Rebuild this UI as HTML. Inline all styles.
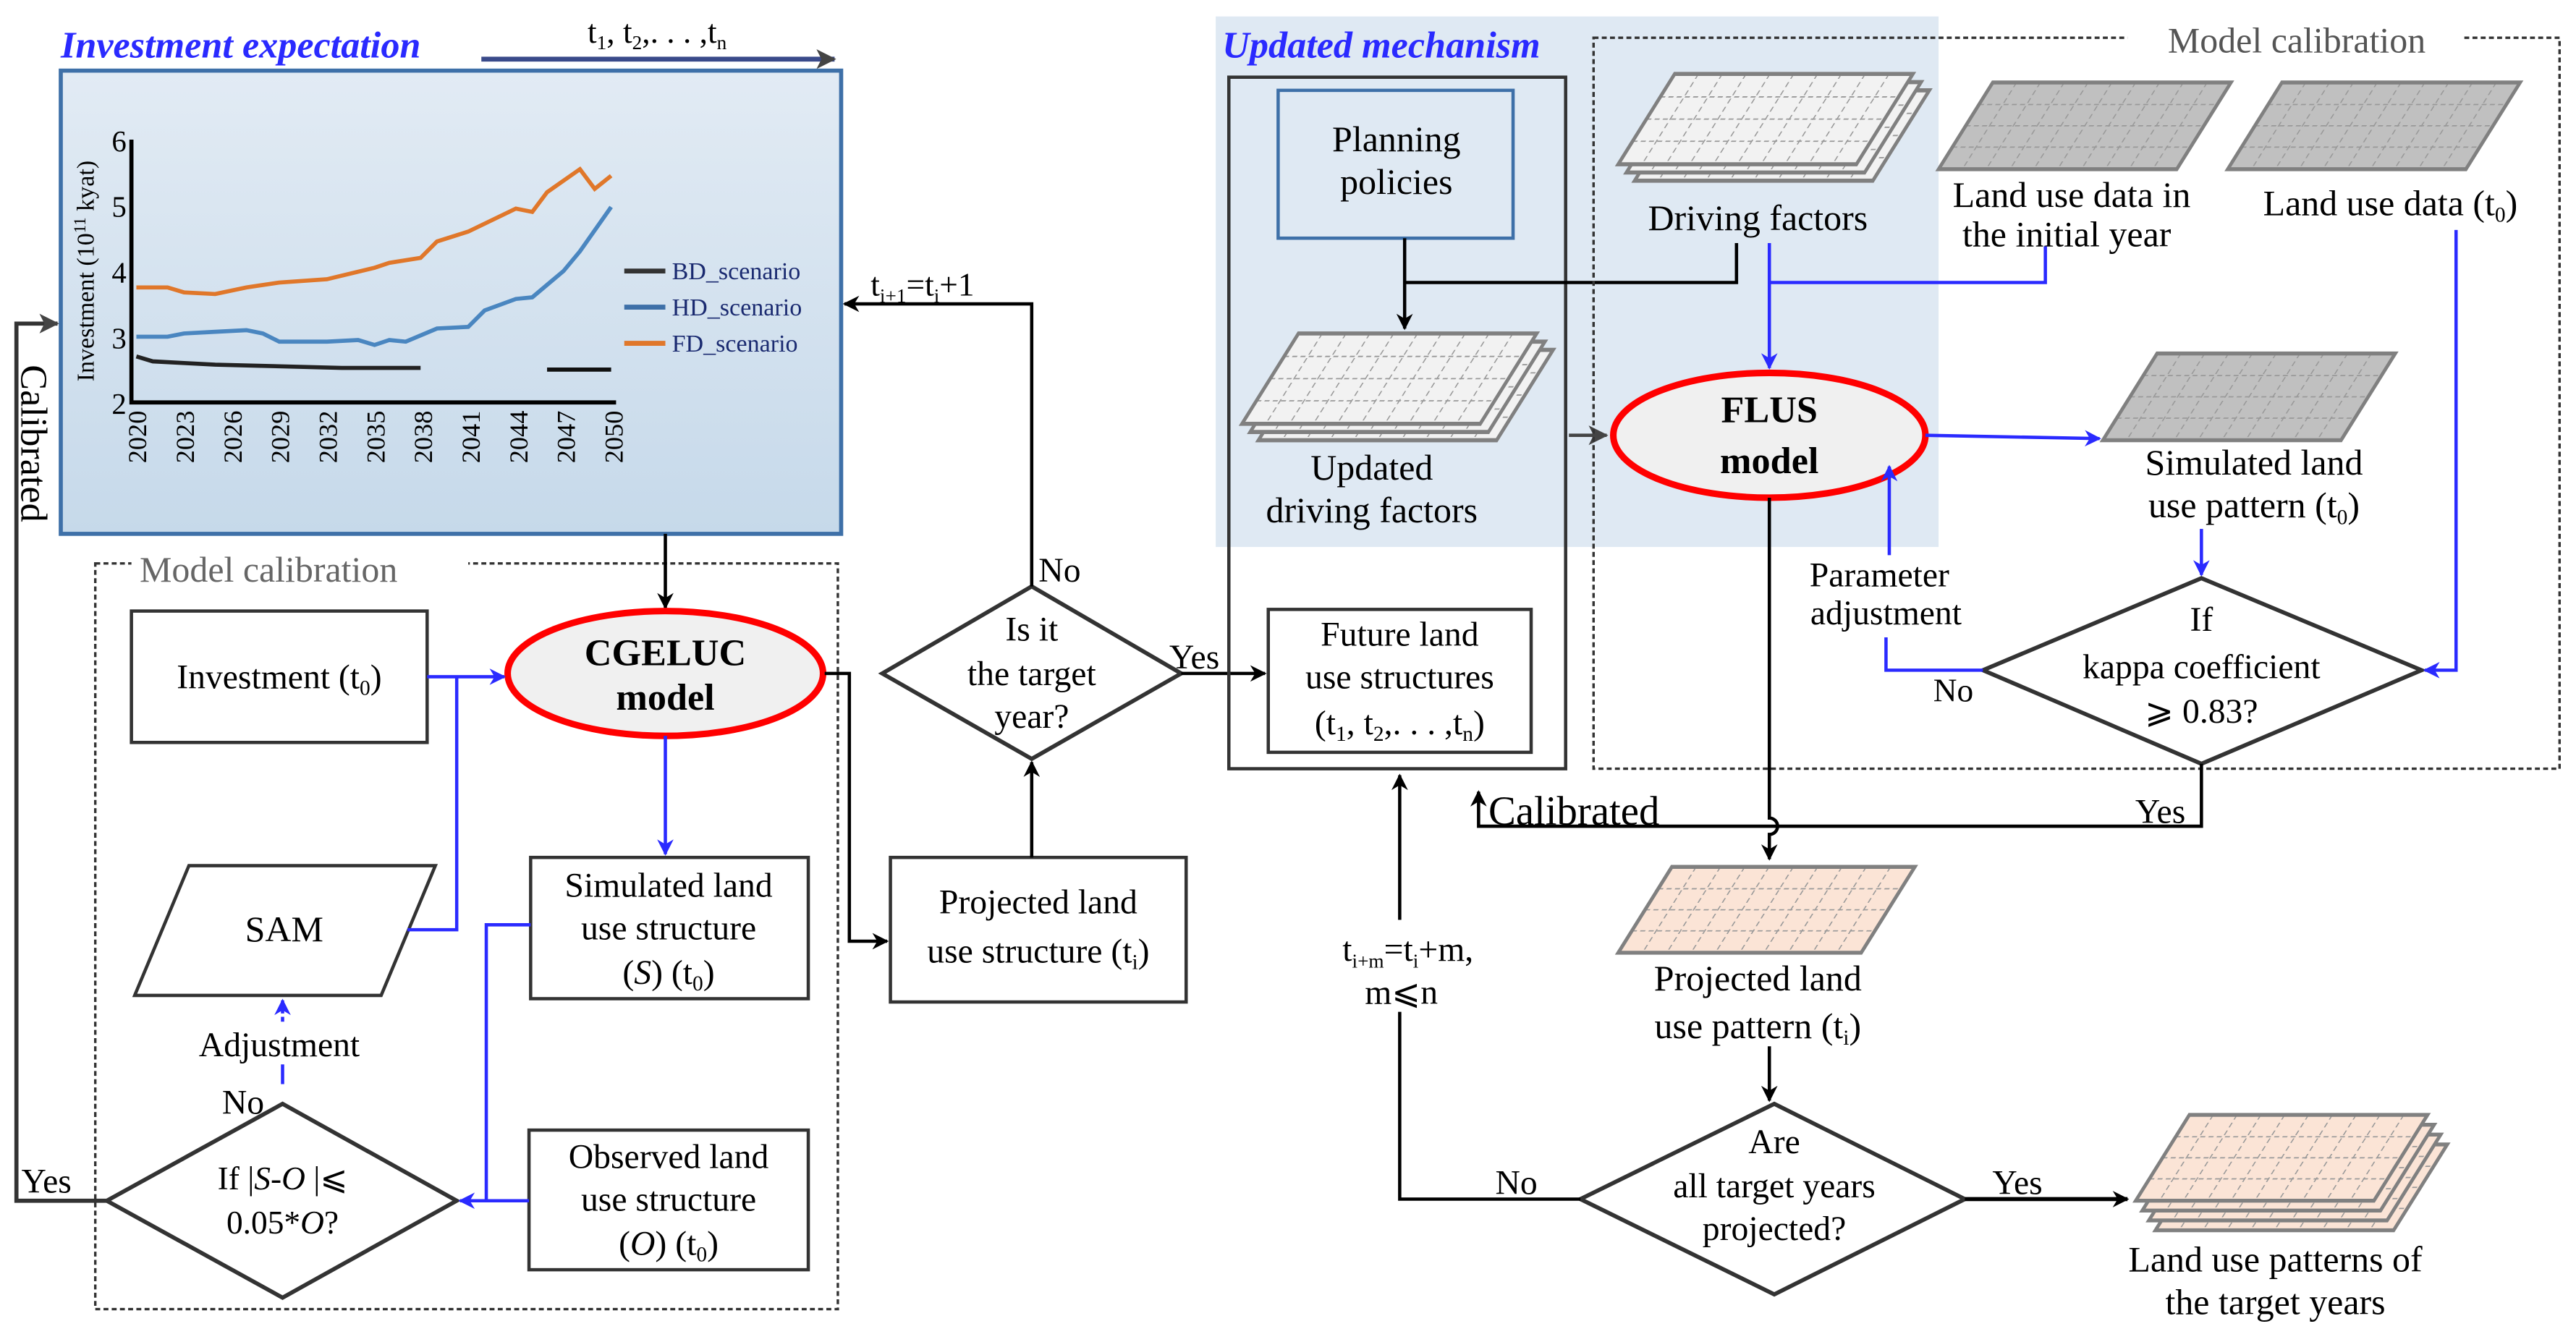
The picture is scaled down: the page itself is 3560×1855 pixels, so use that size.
<!DOCTYPE html>
<html><head><meta charset="utf-8"><style>
html,body{margin:0;padding:0;background:#fff;}
svg{display:block;}
text{font-family:"Liberation Serif","Times New Roman",serif;fill:#000;}
</style></head><body>
<svg width="3560" height="1855" viewBox="0 0 1568 817" preserveAspectRatio="none" xmlns="http://www.w3.org/2000/svg" font-family="Liberation Serif, serif">
<defs>
<linearGradient id="cg" x1="0" y1="0" x2="0" y2="1"><stop offset="0" stop-color="#e2ebf4"/><stop offset="1" stop-color="#c6d9ea"/></linearGradient>
<marker id="ak" markerWidth="10" markerHeight="10" refX="9" refY="5" orient="auto" markerUnits="userSpaceOnUse"><path d="M0,0 L10,5 L0,10 L3,5Z" fill="#000"/></marker>
<marker id="ag" markerWidth="12" markerHeight="12" refX="11" refY="6" orient="auto" markerUnits="userSpaceOnUse"><path d="M0,0 L12,6 L0,12 L3,6Z" fill="#444"/></marker>
<marker id="ab" markerWidth="10" markerHeight="10" refX="9" refY="5" orient="auto" markerUnits="userSpaceOnUse"><path d="M0,0 L10,5 L0,10 L3,5Z" fill="#2a2aff"/></marker>
<g id="grid">
<g stroke="#999" stroke-width="0.8" stroke-dasharray="3,2">
<line x1="14.5" y1="-55" x2="14.5" y2="0"/><line x1="29" y1="-55" x2="29" y2="0"/><line x1="43.5" y1="-55" x2="43.5" y2="0"/><line x1="58" y1="-55" x2="58" y2="0"/><line x1="72.5" y1="-55" x2="72.5" y2="0"/><line x1="87" y1="-55" x2="87" y2="0"/><line x1="101.5" y1="-55" x2="101.5" y2="0"/><line x1="116" y1="-55" x2="116" y2="0"/><line x1="130.5" y1="-55" x2="130.5" y2="0"/>
<line x1="0" y1="-41" x2="145" y2="-41"/><line x1="0" y1="-27.5" x2="145" y2="-27.5"/><line x1="0" y1="-14" x2="145" y2="-14"/>
</g>
<rect x="0" y="-55" width="145" height="55" fill="none" stroke="#808080" stroke-width="2.5"/>
</g>
</defs>

<!-- Investment expectation -->
<text x="37" y="35" font-size="23" font-style="italic" font-weight="bold" style="fill:#2a2aff">Investment expectation</text>
<line x1="293" y1="36" x2="508" y2="36" stroke="#3a4a8a" stroke-width="3" marker-end="url(#ag)"/>
<text x="400" y="26" font-size="20" text-anchor="middle">t<tspan font-size="12" dy="4">1</tspan><tspan dy="-4">, t</tspan><tspan font-size="12" dy="4">2</tspan><tspan dy="-4">,. . . ,t</tspan><tspan font-size="12" dy="4">n</tspan></text>
<rect x="37" y="43" width="475" height="282" fill="url(#cg)" stroke="#3e70a8" stroke-width="2.5"/>
<!-- axes -->
<polyline points="80,85 80,245 375,245" fill="none" stroke="#000" stroke-width="2.5"/>
<g font-size="18" text-anchor="end">
<text x="77" y="92">6</text><text x="77" y="132">5</text><text x="77" y="172">4</text><text x="77" y="212">3</text><text x="77" y="252">2</text>
</g>
<text transform="translate(57,165) rotate(-90)" font-size="15" text-anchor="middle">Investment (10<tspan font-size="10" dy="-5">11</tspan><tspan dy="5"> kyat)</tspan></text>
<g font-size="16" text-anchor="end">
<text transform="translate(89,250) rotate(-90)">2020</text>
<text transform="translate(118,250) rotate(-90)">2023</text>
<text transform="translate(147,250) rotate(-90)">2026</text>
<text transform="translate(176,250) rotate(-90)">2029</text>
<text transform="translate(205,250) rotate(-90)">2032</text>
<text transform="translate(234,250) rotate(-90)">2035</text>
<text transform="translate(263,250) rotate(-90)">2038</text>
<text transform="translate(292,250) rotate(-90)">2041</text>
<text transform="translate(321,250) rotate(-90)">2044</text>
<text transform="translate(350,250) rotate(-90)">2047</text>
<text transform="translate(379,250) rotate(-90)">2050</text>
</g>
<polyline fill="none" stroke="#e0772a" stroke-width="2.5" points="83,175 102,175 112,178 131,179 150,175 170,172 199,170 228,163 237,160 256,157 266,147 285,141 314,127 324,129 333,117 353,103 362,115 372,107"/>
<polyline fill="none" stroke="#4a86c0" stroke-width="2.5" points="83,205 102,205 112,203 131,202 150,201 160,203 170,208 199,208 218,207 228,210 237,207 247,208 266,200 285,199 295,189 314,182 324,181 343,165 353,153 372,126"/>
<polyline fill="none" stroke="#222" stroke-width="2.5" points="83,217 93,220 112,221 131,222 170,223 208,224 256,224"/>
<line x1="333" y1="225" x2="372" y2="225" stroke="#111" stroke-width="2.5"/>
<line x1="380" y1="165" x2="405" y2="165" stroke="#333" stroke-width="3"/>
<line x1="380" y1="187" x2="405" y2="187" stroke="#3e70a8" stroke-width="3"/>
<line x1="380" y1="209" x2="405" y2="209" stroke="#e0772a" stroke-width="3"/>
<g font-size="15"><text x="409" y="170" style="fill:#1a2a70">BD_scenario</text><text x="409" y="192" style="fill:#1a2a70">HD_scenario</text><text x="409" y="214" style="fill:#1a2a70">FD_scenario</text></g>

<!-- left calibrated loop -->
<polyline points="65,731 10,731 10,197 35,197" fill="none" stroke="#333" stroke-width="2.5" marker-end="url(#ag)"/>
<text transform="translate(13,270) rotate(90)" font-size="23" text-anchor="middle">Calibrated</text>
<text x="13" y="726" font-size="21">Yes</text>

<!-- left model calibration -->
<rect x="58" y="343" width="452" height="454" fill="none" stroke="#333" stroke-width="1.5" stroke-dasharray="3,2"/>
<rect x="80" y="333" width="205" height="22" fill="#fff"/>
<text x="85" y="354" font-size="22" style="fill:#666">Model  calibration</text>

<line x1="405" y1="325" x2="405" y2="370" stroke="#000" stroke-width="2" marker-end="url(#ak)"/>
<ellipse cx="405" cy="410" rx="96" ry="38" fill="#f0f0f0" stroke="#f00" stroke-width="4"/>
<text x="405" y="405" font-size="23" font-weight="bold" text-anchor="middle">CGELUC</text>
<text x="405" y="432" font-size="23" font-weight="bold" text-anchor="middle">model</text>

<rect x="80" y="372" width="180" height="80" fill="#fff" stroke="#333" stroke-width="2"/>
<text x="170" y="419" font-size="21" text-anchor="middle">Investment (t<tspan font-size="13" dy="4">0</tspan><tspan dy="-4">)</tspan></text>
<line x1="260" y1="412" x2="307" y2="412" stroke="#2a2aff" stroke-width="2" marker-end="url(#ab)"/>

<polygon points="82,606 115,527 265,527 232,606" fill="#fff" stroke="#333" stroke-width="2"/>
<text x="173" y="573" font-size="22" text-anchor="middle">SAM</text>
<polyline points="248,566 278,566 278,412" fill="none" stroke="#2a2aff" stroke-width="2"/>

<line x1="405" y1="448" x2="405" y2="520" stroke="#2a2aff" stroke-width="2" marker-end="url(#ab)"/>
<rect x="323" y="522" width="169" height="86" fill="#fff" stroke="#333" stroke-width="2"/>
<g font-size="21" text-anchor="middle"><text x="407" y="546">Simulated land</text><text x="407" y="572">use structure</text><text x="407" y="599">(<tspan font-style="italic">S</tspan>) (t<tspan font-size="13" dy="4">0</tspan><tspan dy="-4">)</tspan></text></g>

<rect x="322" y="688" width="170" height="85" fill="#fff" stroke="#333" stroke-width="2"/>
<g font-size="21" text-anchor="middle"><text x="407" y="711">Observed land</text><text x="407" y="737">use structure</text><text x="407" y="764">(<tspan font-style="italic">O</tspan>) (t<tspan font-size="13" dy="4">0</tspan><tspan dy="-4">)</tspan></text></g>

<polygon points="65,731 172,672 278,731 172,790" fill="#fff" stroke="#333" stroke-width="2.5"/>
<g font-size="20" text-anchor="middle"><text x="172" y="724">If |<tspan font-style="italic">S</tspan>-<tspan font-style="italic">O</tspan> |⩽</text><text x="172" y="751">0.05*<tspan font-style="italic">O</tspan>?</text></g>
<line x1="322" y1="731" x2="280" y2="731" stroke="#2a2aff" stroke-width="2" marker-end="url(#ab)"/>
<polyline points="323,563 296,563 296,731" fill="none" stroke="#2a2aff" stroke-width="2"/>
<line x1="172" y1="622" x2="172" y2="609" stroke="#2a2aff" stroke-width="2" stroke-dasharray="3,2" marker-end="url(#ab)"/>
<line x1="172" y1="648" x2="172" y2="660" stroke="#2a2aff" stroke-width="2"/>
<text x="170" y="643" font-size="21" text-anchor="middle">Adjustment</text>
<text x="148" y="678" font-size="21" text-anchor="middle">No</text>

<!-- middle -->
<polyline points="502,410 517,410 517,573 540,573" fill="none" stroke="#000" stroke-width="2" marker-end="url(#ak)"/>
<rect x="542" y="522" width="180" height="88" fill="#fff" stroke="#333" stroke-width="2"/>
<g font-size="21" text-anchor="middle"><text x="632" y="556">Projected land</text><text x="632" y="586">use structure (t<tspan font-size="13" dy="4">i</tspan><tspan dy="-4">)</tspan></text></g>
<line x1="628" y1="522" x2="628" y2="464" stroke="#000" stroke-width="2" marker-end="url(#ak)"/>
<polygon points="537,410 628,357 719,410 628,462" fill="#fff" stroke="#333" stroke-width="2.5"/>
<g font-size="21" text-anchor="middle"><text x="628" y="390">Is it</text><text x="628" y="417">the target</text><text x="628" y="443">year?</text></g>
<polyline points="628,357 628,185 514,185" fill="none" stroke="#000" stroke-width="2" marker-end="url(#ak)"/>
<text x="530" y="180" font-size="20">t<tspan font-size="12" dy="4">i+1</tspan><tspan dy="-4">=t</tspan><tspan font-size="12" dy="4">i</tspan><tspan dy="-4">+1</tspan></text>
<text x="645" y="354" font-size="21" text-anchor="middle">No</text>
<text x="727" y="407" font-size="21" text-anchor="middle">Yes</text>
<line x1="719" y1="410" x2="770" y2="410" stroke="#000" stroke-width="2" marker-end="url(#ak)"/>

<!-- updated mechanism -->
<rect x="740" y="10" width="440" height="323" fill="#dfe9f3"/>
<text x="744" y="35" font-size="23" font-style="italic" font-weight="bold" style="fill:#2a2aff">Updated mechanism</text>
<rect x="748" y="47" width="205" height="421" fill="none" stroke="#333" stroke-width="2"/>
<rect x="778" y="55" width="143" height="90" fill="#dfe9f3" stroke="#3e70a8" stroke-width="2"/>
<g font-size="22" text-anchor="middle"><text x="850" y="92">Planning</text><text x="850" y="118">policies</text></g>

<g>
<polygon transform="translate(995,110) skewX(-32)" points="0,-55 145,-55 145,0 0,0" fill="#f2f2f2"/>
<use href="#grid" transform="translate(995,110) skewX(-32)"/>
<polygon transform="translate(990,105) skewX(-32)" points="0,-55 145,-55 145,0 0,0" fill="#f2f2f2"/>
<use href="#grid" transform="translate(990,105) skewX(-32)"/>
<polygon transform="translate(985,100) skewX(-32)" points="0,-55 145,-55 145,0 0,0" fill="#f2f2f2"/>
<use href="#grid" transform="translate(985,100) skewX(-32)"/>
</g>
<text x="1070" y="140" font-size="22" text-anchor="middle">Driving factors</text>

<g>
<polygon transform="translate(766,268) skewX(-32)" points="0,-55 145,-55 145,0 0,0" fill="#f2f2f2"/>
<use href="#grid" transform="translate(766,268) skewX(-32)"/>
<polygon transform="translate(761,263) skewX(-32)" points="0,-55 145,-55 145,0 0,0" fill="#f2f2f2"/>
<use href="#grid" transform="translate(761,263) skewX(-32)"/>
<polygon transform="translate(756,258) skewX(-32)" points="0,-55 145,-55 145,0 0,0" fill="#f2f2f2"/>
<use href="#grid" transform="translate(756,258) skewX(-32)"/>
</g>
<g font-size="22" text-anchor="middle"><text x="835" y="292">Updated</text><text x="835" y="318">driving factors</text></g>

<line x1="855" y1="145" x2="855" y2="200" stroke="#000" stroke-width="2" marker-end="url(#ak)"/>
<polyline points="1057,148 1057,172 855,172" fill="none" stroke="#000" stroke-width="2"/>
<line x1="955" y1="265" x2="978" y2="265" stroke="#444" stroke-width="2" marker-end="url(#ag)"/>

<rect x="772" y="371" width="160" height="87" fill="#fff" stroke="#333" stroke-width="2"/>
<g font-size="21" text-anchor="middle"><text x="852" y="393">Future land</text><text x="852" y="419">use structures</text><text x="852" y="447">(t<tspan font-size="13" dy="4">1</tspan><tspan dy="-4">, t</tspan><tspan font-size="13" dy="4">2</tspan><tspan dy="-4">,. . . ,t</tspan><tspan font-size="13" dy="4">n</tspan><tspan dy="-4">)</tspan></text></g>

<!-- right model calibration -->
<rect x="970" y="23" width="588" height="445" fill="none" stroke="#333" stroke-width="1.5" stroke-dasharray="3,2"/>
<rect x="1295" y="10" width="205" height="25" fill="#fff"/>
<text x="1398" y="32" font-size="22" text-anchor="middle" style="fill:#555">Model  calibration</text>

<polygon transform="translate(1180,103) skewX(-32)" points="0,-53 145,-53 145,0 0,0" fill="#c0c0c0"/>
<use href="#grid" transform="translate(1180,103) skewX(-32) scale(1,0.96)"/>
<polygon transform="translate(1356,103) skewX(-32)" points="0,-53 145,-53 145,0 0,0" fill="#c0c0c0"/>
<use href="#grid" transform="translate(1356,103) skewX(-32) scale(1,0.96)"/>
<g font-size="22" text-anchor="middle"><text x="1261" y="126">Land use data in</text><text x="1258" y="150">the initial year</text></g>
<text x="1455" y="131" font-size="22" text-anchor="middle">Land use data  (t<tspan font-size="13" dy="4">0</tspan><tspan dy="-4">)</tspan></text>

<polyline points="1245,150 1245,172 1077,172" fill="none" stroke="#2a2aff" stroke-width="2"/>
<line x1="1077" y1="148" x2="1077" y2="224" stroke="#2a2aff" stroke-width="2" marker-end="url(#ab)"/>
<ellipse cx="1077" cy="265" rx="95" ry="38" fill="#f0f0f0" stroke="#f00" stroke-width="4"/>
<text x="1077" y="257" font-size="23" font-weight="bold" text-anchor="middle">FLUS</text>
<text x="1077" y="288" font-size="23" font-weight="bold" text-anchor="middle">model</text>

<line x1="1172" y1="265" x2="1278" y2="267" stroke="#2a2aff" stroke-width="2" marker-end="url(#ab)"/>
<polygon transform="translate(1280,268) skewX(-32)" points="0,-53 145,-53 145,0 0,0" fill="#c0c0c0"/>
<use href="#grid" transform="translate(1280,268) skewX(-32) scale(1,0.96)"/>
<g font-size="22" text-anchor="middle"><text x="1372" y="289">Simulated land</text><text x="1372" y="315">use pattern (t<tspan font-size="13" dy="4">0</tspan><tspan dy="-4">)</tspan></text></g>
<line x1="1340" y1="322" x2="1340" y2="350" stroke="#2a2aff" stroke-width="2" marker-end="url(#ab)"/>
<polygon points="1207,408 1340,352 1474,408 1340,465" fill="#fff" stroke="#333" stroke-width="2.5"/>
<g font-size="21" text-anchor="middle"><text x="1340" y="384">If</text><text x="1340" y="413">kappa coefficient</text><text x="1340" y="440">⩾ 0.83?</text></g>
<polyline points="1495,140 1495,408 1476,408" fill="none" stroke="#2a2aff" stroke-width="2" marker-end="url(#ab)"/>
<text x="1189" y="427" font-size="20" text-anchor="middle">No</text>
<polyline points="1207,408 1148,408 1148,388" fill="none" stroke="#2a2aff" stroke-width="2"/>
<line x1="1150" y1="338" x2="1150" y2="284" stroke="#2a2aff" stroke-width="2" marker-end="url(#ab)"/>
<g font-size="21" text-anchor="middle"><text x="1144" y="357">Parameter</text><text x="1148" y="380">adjustment</text></g>

<path d="M1077,303 L1077,498 A5,5 0 0 1 1077,508 L1077,523" fill="none" stroke="#000" stroke-width="2" marker-end="url(#ak)"/>
<polyline points="1340,465 1340,503 900,503 900,482" fill="none" stroke="#000" stroke-width="2" marker-end="url(#ak)"/>
<text x="1315" y="501" font-size="21" text-anchor="middle">Yes</text>
<text x="906" y="502" font-size="25">Calibrated</text>

<polygon transform="translate(985,580) skewX(-32)" points="0,-52 148,-52 148,0 0,0" fill="#fbe4d6"/>
<use href="#grid" transform="translate(985,580) skewX(-32) scale(1.02,0.95)"/>
<g font-size="22" text-anchor="middle"><text x="1070" y="603">Projected land</text><text x="1070" y="632">use pattern (t<tspan font-size="13" dy="4">i</tspan><tspan dy="-4">)</tspan></text></g>
<line x1="1077" y1="637" x2="1077" y2="670" stroke="#000" stroke-width="2" marker-end="url(#ak)"/>
<polygon points="962,730 1080,672 1196,730 1080,788" fill="#fff" stroke="#333" stroke-width="2.5"/>
<g font-size="21" text-anchor="middle"><text x="1080" y="702">Are</text><text x="1080" y="729">all target years</text><text x="1080" y="755">projected?</text></g>
<polyline points="962,730 852,730 852,472" fill="none" stroke="#000" stroke-width="2" marker-end="url(#ak)"/>
<rect x="800" y="560" width="110" height="56" fill="#fff"/>
<text x="857" y="585" font-size="21" text-anchor="middle">t<tspan font-size="12" dy="4">i+m</tspan><tspan dy="-4">=t</tspan><tspan font-size="12" dy="4">i</tspan><tspan dy="-4">+m,</tspan></text>
<text x="853" y="611" font-size="21" text-anchor="middle">m⩽n</text>
<text x="923" y="727" font-size="21" text-anchor="middle">No</text>
<text x="1228" y="727" font-size="21" text-anchor="middle">Yes</text>
<line x1="1196" y1="730" x2="1295" y2="730" stroke="#000" stroke-width="2.5" marker-end="url(#ak)"/>

<g>
<polygon transform="translate(1312,749) skewX(-32)" points="0,-52 145,-52 145,0 0,0" fill="#fbe4d6"/>
<use href="#grid" transform="translate(1312,749) skewX(-32) scale(1,0.95)"/>
<polygon transform="translate(1308,743) skewX(-32)" points="0,-52 145,-52 145,0 0,0" fill="#fbe4d6"/>
<use href="#grid" transform="translate(1308,743) skewX(-32) scale(1,0.95)"/>
<polygon transform="translate(1304,737) skewX(-32)" points="0,-52 145,-52 145,0 0,0" fill="#fbe4d6"/>
<use href="#grid" transform="translate(1304,737) skewX(-32) scale(1,0.95)"/>
<polygon transform="translate(1300,731) skewX(-32)" points="0,-52 145,-52 145,0 0,0" fill="#fbe4d6"/>
<use href="#grid" transform="translate(1300,731) skewX(-32) scale(1,0.95)"/>
</g>
<g font-size="22" text-anchor="middle"><text x="1385" y="774">Land use patterns of</text><text x="1385" y="800">the target years</text></g>
</svg>
</body></html>
